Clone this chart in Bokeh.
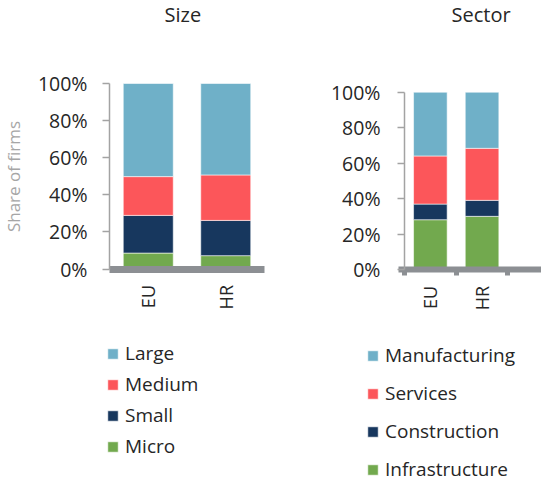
import math
from bokeh.plotting import figure
from bokeh.layouts import row
from bokeh.models import (Range1d, NumeralTickFormatter, FixedTicker,
                          Legend, LegendItem, ColumnDataSource)
from bokeh.embed import file_html
from bokeh.resources import INLINE

# ---- data ----
regions = ["EU", "HR"]

size_classes = ["Micro", "Small", "Medium", "Large"]
micro = [8.6, 7.2]
small = [20.3, 19.0]
medium = [20.9, 24.5]
large = [50.2, 49.3]

sectors = ["Infrastructure", "Construction", "Services", "Manufacturing"]
infrastructure = [28.2, 30.1]
construction = [8.8, 9.0]
services = [27.1, 29.3]
manufacturing = [35.9, 31.6]

y_ticks = [0, 0.2, 0.4, 0.6, 0.8, 1.0]

colors = ["#72a94e", "#17375e", "#fc565a", "#6fb0c8"]

FONT = "Open Sans"
TXT = "#262626"
BAND = "#8c8f93"
AXIS = "#a3a3a3"

H = 478          # figure height
TOP = 20         # space reserved for the title


def make_fig(width, px_x, x0_px, px_y, y0_px, title, title_offset):
    """px_x: pixels per category, x0_px: position of the y axis inside the figure,
    px_y: pixels per 100 %, y0_px: position of 0 % measured from the figure top."""
    fh = H - TOP
    x_start = -x0_px / px_x
    x_end = (width - x0_px) / px_x
    y_end = 1 + (y0_px - px_y - TOP) / px_y
    y_start = -(H - y0_px) / px_y
    p = figure(width=width, height=H, frame_width=width, frame_height=fh,
               x_range=Range1d(x_start, x_end), y_range=Range1d(y_start, y_end),
               min_border_left=0, min_border_right=0, min_border_bottom=0,
               min_border_top=TOP, output_backend="svg", toolbar_location=None,
               title=title)
    p.outline_line_color = None
    p.grid.visible = False
    p.background_fill_color = "white"
    p.border_fill_color = "white"
    # y axis
    p.yaxis.fixed_location = 0
    p.yaxis.bounds = (0, 1)
    p.yaxis.ticker = FixedTicker(ticks=y_ticks)
    p.yaxis.formatter = NumeralTickFormatter(format="0%")
    p.yaxis.axis_line_color = AXIS
    p.yaxis.axis_line_width = 1.5
    p.yaxis.major_tick_line_color = AXIS
    p.yaxis.major_tick_line_width = 1.5
    p.yaxis.major_tick_out = 7
    p.yaxis.major_tick_in = 0
    p.yaxis.minor_tick_line_color = None
    p.yaxis.major_label_text_font = FONT
    p.yaxis.major_label_text_font_size = "19.5px"
    p.yaxis.major_label_text_color = TXT
    # x axis
    xpos = [i + 0.5 for i in range(len(regions))]
    p.xaxis.fixed_location = 0
    p.xaxis.ticker = FixedTicker(ticks=xpos, minor_ticks=list(range(len(regions) + 1)))
    p.xaxis.major_label_overrides = {x: r for x, r in zip(xpos, regions)}
    p.xaxis.axis_line_color = BAND
    p.xaxis.major_tick_line_color = None
    p.xaxis.major_label_orientation = math.pi / 2
    p.xaxis.major_label_text_font = FONT
    p.xaxis.major_label_text_font_size = "18px"
    p.xaxis.major_label_text_color = TXT
    p.xaxis.major_label_standoff = 10
    # title
    p.title.text_font = FONT
    p.title.text_font_size = "20px"
    p.title.text_font_style = "normal"
    p.title.text_color = TXT
    p.title.align = "left"
    p.title.offset = title_offset
    p.title.standoff = -4
    return p, xpos


def make_legend(renderers, labels, loc, spacing):
    items = [LegendItem(label=l, renderers=[r]) for l, r in zip(labels, renderers)]
    items = items[::-1]
    return Legend(items=items, location=loc, orientation="vertical",
                  glyph_width=13, glyph_height=13, label_height=13,
                  spacing=spacing, padding=0, margin=0, label_standoff=6,
                  border_line_color=None, background_fill_alpha=0,
                  label_text_font=FONT, label_text_font_size="19px",
                  label_text_color=TXT)


# ---- left chart: Size ----
p1, xpos1 = make_fig(277, 77.5, 109, 185.5, 263.5, "Size", 164)
src1 = ColumnDataSource(dict(x=xpos1,
                             Micro=[v / 100 for v in micro],
                             Small=[v / 100 for v in small],
                             Medium=[v / 100 for v in medium],
                             Large=[v / 100 for v in large]))
r1 = p1.vbar_stack(size_classes, x="x", width=0.645, color=colors,
                   line_color="white", line_width=0.8, line_alpha=0.7, source=src1)
p1.xaxis.bounds = (0, 2)
p1.xaxis.axis_line_width = 7
p1.xaxis.minor_tick_line_color = None
p1.yaxis.major_label_standoff = 15
p1.yaxis.axis_label = "Share of firms"
p1.yaxis.axis_label_text_font = FONT
p1.yaxis.axis_label_text_font_size = "17px"
p1.yaxis.axis_label_text_font_style = "normal"
p1.yaxis.axis_label_text_color = "#a6a6a6"
p1.yaxis.axis_label_standoff = 10
p1.add_layout(make_legend(r1, size_classes, (106, 24), 5), "center")

# ---- right chart: Sector ----
p2, xpos2 = make_fig(264, 51.7, 127, 177.6, 264.3, "Sector", 174)
src2 = ColumnDataSource(dict(x=xpos2,
                             Infrastructure=[v / 100 for v in infrastructure],
                             Construction=[v / 100 for v in construction],
                             Services=[v / 100 for v in services],
                             Manufacturing=[v / 100 for v in manufacturing]))
r2 = p2.vbar_stack(sectors, x="x", width=0.65, color=colors,
                   line_color="white", line_width=0.8, line_alpha=0.7, source=src2)
p2.xaxis.bounds = (-0.12, 3)
p2.xaxis.axis_line_width = 6
p2.xaxis.minor_tick_line_color = BAND
p2.xaxis.minor_tick_line_width = 5
p2.xaxis.minor_tick_in = 0
p2.xaxis.minor_tick_out = 6
p2.yaxis.major_label_standoff = 17
p2.add_layout(make_legend(r2, sectors, (89, 1), 12), "center")

layout = row(p1, p2)
open("out.html", "w").write(file_html(layout, INLINE))
